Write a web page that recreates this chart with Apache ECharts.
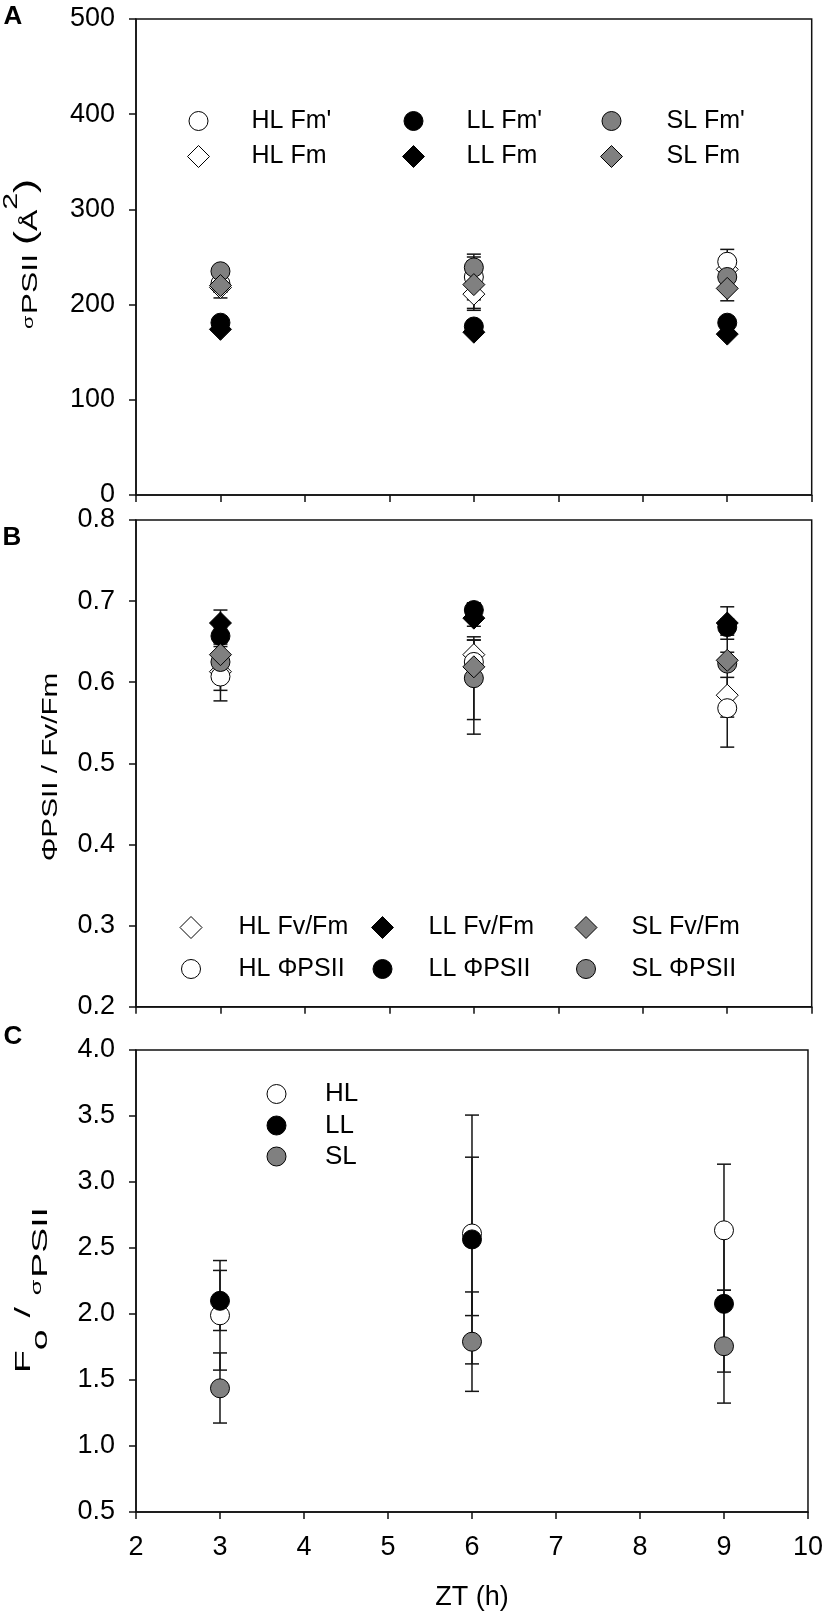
<!DOCTYPE html>
<html><head><meta charset="utf-8">
<script src="https://cdn.jsdelivr.net/npm/echarts@6/dist/echarts.min.js"></script>
<style>html,body{margin:0;padding:0;background:#fff}#c{width:826px;height:1618px}</style>
</head><body><div id="c"></div>
<script>
// ---------- data ----------
const zt = [3, 6, 9];
const xTickLabels = ['2','3','4','5','6','7','8','9','10'];

// Panel A: sigma PSII (Å2)
const aHLFmP = [222, 229, 245];
const aHLFmPErr = [[216, 228], [205, 253], [232, 258]];
const aHLFm = [218, 211, 237];
const aHLFmErr = [[213, 223], [194, 228], [232, 242]];
const aLLFmP = [181, 177, 181];
const aLLFmPErr = [[178, 184], [174, 180], [178, 184]];
const aLLFm = [174, 171, 169];
const aLLFmErr = [[171, 177], [168, 174], [166, 172]];
const aSLFmP = [235, 239, 229];
const aSLFmPErr = [[230, 240], [228, 250], [224, 234]];
const aSLFm = [220, 221, 217];
const aSLFmErr = [[207, 233], [196, 246], [204, 230]];

// Panel B: PhiPSII / Fv/Fm
const bHLFvFm = [0.613, 0.634, 0.584];
const bHLFvFmErr = [[0.577, 0.649], [0.616, 0.652], [0.562, 0.606]];
const bHLPhi = [0.607, 0.625, 0.568];
const bHLPhiErr = [[0.590, 0.624], [0.615, 0.635], [0.557, 0.579]];
const bLLFvFm = [0.673, 0.679, 0.673];
const bLLFvFmErr = [[0.657, 0.689], [0.669, 0.689], [0.653, 0.693]];
const bLLPhi = [0.657, 0.689, 0.668];
const bLLPhiErr = [[0.647, 0.667], [0.680, 0.698], [0.658, 0.678]];
const bSLPhi = [0.625, 0.605, 0.623];
const bSLPhiErr = [[0.615, 0.635], [0.554, 0.656], [0.520, 0.660]];
const bSLFvFm = [0.634, 0.619, 0.627];
const bSLFvFmErr = [[0.624, 0.644], [0.536, 0.652], [0.617, 0.637]];

// Panel C: Fo / sigma PSII
const cHL = [1.99, 2.61, 2.634];
const cHLErr = [[1.575, 2.405], [1.988, 3.188], [2.18, 3.135]];
const cLL = [2.10, 2.565, 2.077];
const cLLErr = [[1.875, 2.33], [1.622, 3.507], [1.56, 2.59]];
const cSL = [1.437, 1.79, 1.756];
const cSLErr = [[1.174, 1.705], [1.414, 2.167], [1.325, 2.18]];

// ---------- styling ----------
const FONT = '"Liberation Sans", Arial, sans-serif';
const WHITE = '#ffffff', BLACK = '#000000', GRAY = '#808080';
const AX = '#111111';

const chart = echarts.init(document.getElementById('c'), null, {renderer: 'canvas'});

const grids = [
  {left: 136, top: 19, width: 675.7, height: 476},
  {left: 136, top: 520, width: 675.7, height: 486.7},
  {left: 136, top: 1050, width: 675.7, height: 462}
].map(g => Object.assign({show: true, borderColor: AX, borderWidth: 1.5, backgroundColor: 'transparent'}, g));

function xAx(i, showLabels) {
  return {
    type: 'value', gridIndex: i, min: 2, max: 10, interval: 1,
    axisLine: {show: true, onZero: false, lineStyle: {color: AX, width: 1.5}},
    axisTick: {show: true, inside: false, length: 7, lineStyle: {color: AX, width: 1.5}},
    axisLabel: {show: showLabels, margin: 22, fontFamily: FONT, fontSize: 27, color: '#000',
      formatter: v => xTickLabels[Math.round(v) - 2]},
    splitLine: {show: false},
    name: showLabels ? 'ZT (h)' : '', nameLocation: 'middle', nameGap: 72,
    nameTextStyle: {fontFamily: FONT, fontSize: 27, color: '#000'}
  };
}
function yAx(i, min, max, interval, dec) {
  return {
    type: 'value', gridIndex: i, min, max, interval,
    axisLine: {show: true, onZero: false, lineStyle: {color: AX, width: 1.5}},
    axisTick: {show: true, inside: false, length: 7, lineStyle: {color: AX, width: 1.5}},
    axisLabel: {margin: 21, fontFamily: FONT, fontSize: 27, color: '#000',
      formatter: v => v.toFixed(dec)},
    splitLine: {show: false}
  };
}

function errRender(params, api) {
  const x = api.value(0), lo = api.value(1), hi = api.value(2);
  const p1 = api.coord([x, lo]), p2 = api.coord([x, hi]);
  const hw = 7;
  const st = {stroke: '#151515', lineWidth: 1.5};
  return {type: 'group', children: [
    {type: 'line', shape: {x1: p1[0], y1: p1[1], x2: p2[0], y2: p2[1]}, style: st},
    {type: 'line', shape: {x1: p1[0] - hw, y1: p1[1], x2: p1[0] + hw, y2: p1[1]}, style: st},
    {type: 'line', shape: {x1: p2[0] - hw, y1: p2[1], x2: p2[0] + hw, y2: p2[1]}, style: st}
  ]};
}

const series = [];
function addSeries(gi, name, vals, errs, symbol, fill) {
  const size = symbol === 'diamond' ? 22 : 19;
  series.push({
    type: 'custom', xAxisIndex: gi, yAxisIndex: gi, silent: true,
    renderItem: errRender, encode: {x: 0, y: [1, 2]},
    data: zt.map((x, i) => [x, errs[i][0], errs[i][1]])
  });
  series.push({
    type: 'scatter', name, xAxisIndex: gi, yAxisIndex: gi, symbol, symbolSize: size,
    itemStyle: {color: fill, borderColor: '#000', borderWidth: 1, opacity: 1},
    emphasis: {disabled: true},
    data: zt.map((x, i) => [x, vals[i]])
  });
}
// Panel A (draw order)
addSeries(0, 'HL Fm', aHLFm, aHLFmErr, 'diamond', WHITE);
addSeries(0, "HL Fm'", aHLFmP, aHLFmPErr, 'circle', WHITE);
addSeries(0, "LL Fm'", aLLFmP, aLLFmPErr, 'circle', BLACK);
addSeries(0, 'LL Fm', aLLFm, aLLFmErr, 'diamond', BLACK);
addSeries(0, "SL Fm'", aSLFmP, aSLFmPErr, 'circle', GRAY);
addSeries(0, 'SL Fm', aSLFm, aSLFmErr, 'diamond', GRAY);
// Panel B
addSeries(1, 'HL Fv/Fm', bHLFvFm, bHLFvFmErr, 'diamond', WHITE);
addSeries(1, 'HL ΦPSII', bHLPhi, bHLPhiErr, 'circle', WHITE);
addSeries(1, 'LL Fv/Fm', bLLFvFm, bLLFvFmErr, 'diamond', BLACK);
addSeries(1, 'LL ΦPSII', bLLPhi, bLLPhiErr, 'circle', BLACK);
addSeries(1, 'SL ΦPSII', bSLPhi, bSLPhiErr, 'circle', GRAY);
addSeries(1, 'SL Fv/Fm', bSLFvFm, bSLFvFmErr, 'diamond', GRAY);
// Panel C
addSeries(2, 'HL', cHL, cHLErr, 'circle', WHITE);
addSeries(2, 'LL', cLL, cLLErr, 'circle', BLACK);
addSeries(2, 'SL', cSL, cSLErr, 'circle', GRAY);

// legends: one per entry [name, symbol, fill, centerX, centerY, textStartX, fontSize]
const legendLayout = [
  ["HL Fm'", 'circle', WHITE, 198, 118, 251, 25],
  ["LL Fm'", 'circle', BLACK, 413, 118, 466, 25],
  ["SL Fm'", 'circle', GRAY, 611, 118, 666, 25],
  ['HL Fm', 'diamond', WHITE, 198, 155, 251, 25],
  ['LL Fm', 'diamond', BLACK, 413, 155, 466, 25],
  ['SL Fm', 'diamond', GRAY, 611, 155, 666, 25],
  ['HL Fv/Fm', 'diamond', WHITE, 190.5, 926, 238, 25],
  ['LL Fv/Fm', 'diamond', BLACK, 382, 926, 428, 25],
  ['SL Fv/Fm', 'diamond', GRAY, 585.5, 926, 631, 25],
  ['HL ΦPSII', 'circle', WHITE, 190.5, 966, 238, 25],
  ['LL ΦPSII', 'circle', BLACK, 382, 966, 428, 25],
  ['SL ΦPSII', 'circle', GRAY, 585.5, 966, 631, 25],
  ['HL', 'circle', WHITE, 276, 1090.5, 324.5, 26],
  ['LL', 'circle', BLACK, 276, 1122, 324.5, 26],
  ['SL', 'circle', GRAY, 276, 1153, 324.5, 26]
];
const legends = legendLayout.map(([name, sym, fill, cx, cy, tx, fs]) => {
  const s = sym === 'diamond' ? 22 : 19;
  const pad = tx - (cx + s / 2 + 5);
  return {
    show: true, selectedMode: false, padding: 0, orient: 'horizontal',
    left: cx - s / 2, top: cy - s / 2, itemWidth: s, itemHeight: s,
    textStyle: {fontFamily: FONT, fontSize: fs, color: '#000', lineHeight: s, padding: [0, 0, 0, pad]},
    data: [{name, icon: sym, itemStyle: {color: fill, borderColor: '#000', borderWidth: 1}}]
  };
});

const f = (px) => px + 'px ' + FONT;
const graphics = [
  {type: 'text', x: 13, y: 17, style: {text: 'A', font: 'bold 26px ' + FONT, fill: '#000', align: 'center', verticalAlign: 'middle'}},
  {type: 'text', x: 12, y: 538, style: {text: 'B', font: 'bold 26px ' + FONT, fill: '#000', align: 'center', verticalAlign: 'middle'}},
  {type: 'text', x: 13, y: 1037, style: {text: 'C', font: 'bold 26px ' + FONT, fill: '#000', align: 'center', verticalAlign: 'middle'}},
  // y-axis titles (rotated)
  {type: 'text', x: 27, y: 254, rotation: Math.PI / 2, scaleX: 1.45,
    style: {text: '{s|σ}{n|PSII }{q|(}{n|Å}{p|2}{q|)}', font: f(22), align: 'center', verticalAlign: 'middle', fill: '#000',
      rich: {
        s: {font: f(15), lineHeight: 15, verticalAlign: 'bottom', padding: [0, 1, 5, 0], fill: '#000'},
        n: {font: f(22), lineHeight: 22, verticalAlign: 'bottom', fill: '#000'},
        q: {font: f(29), lineHeight: 29, verticalAlign: 'bottom', fill: '#000'},
        p: {font: f(21), lineHeight: 21, verticalAlign: 'bottom', padding: [0, 0, 20, 0], fill: '#000'}
      }}},
  {type: 'text', x: 51, y: 767, rotation: Math.PI / 2, scaleX: 1.35,
    style: {text: 'ΦPSII / Fv/Fm', font: f(22), align: 'center', verticalAlign: 'middle', fill: '#000'}},
  {type: 'text', x: 41, y: 1290, rotation: Math.PI / 2, scaleX: 1.7,
    style: {text: '{u|F}{o|o}{v|/}{s|σ}{n|PSII}', font: f(22), align: 'center', verticalAlign: 'middle', fill: '#000',
      rich: {
        u: {font: f(22), lineHeight: 22, verticalAlign: 'bottom', padding: [0, 0, 17, 0], fill: '#000'},
        v: {font: f(22), lineHeight: 22, verticalAlign: 'bottom', padding: [0, 7, 17, 7], fill: '#000'},
        o: {font: f(22), lineHeight: 22, verticalAlign: 'bottom', fill: '#000'},
        s: {font: f(15), lineHeight: 15, verticalAlign: 'bottom', padding: [0, 1, 8, 0], fill: '#000'},
        n: {font: f(22), lineHeight: 22, verticalAlign: 'bottom', fill: '#000'}
      }}}
];

chart.setOption({
  animation: false,
  backgroundColor: '#fff',
  grid: grids,
  xAxis: [xAx(0, false), xAx(1, false), xAx(2, true)],
  yAxis: [yAx(0, 0, 500, 100, 0), yAx(1, 0.2, 0.8, 0.1, 1), yAx(2, 0.5, 4.0, 0.5, 1)],
  legend: legends,
  graphic: graphics,
  series
});
</script></body></html>
